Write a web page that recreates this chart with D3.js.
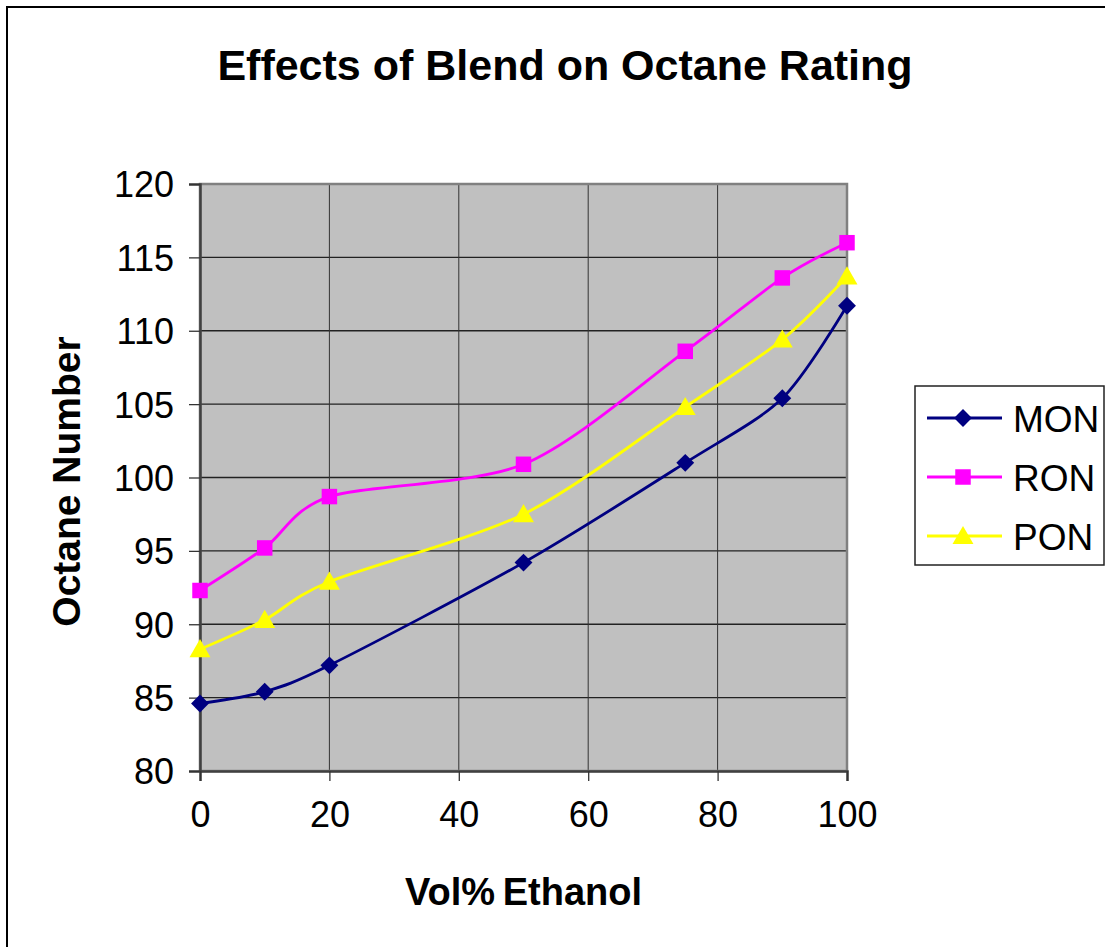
<!DOCTYPE html>
<html><head><meta charset="utf-8">
<script src="https://cdn.jsdelivr.net/npm/d3@7"></script>
<style>html,body{margin:0;padding:0;background:#fff;overflow:hidden}</style>
</head><body>
<svg id="c" width="1105" height="947"></svg>
<script>
const xValues = [0, 10, 20, 50, 75, 90, 100];
const MON = [84.6, 85.4, 87.2, 94.2, 101.0, 105.4, 111.7];
const RON = [92.3, 95.2, 98.7, 100.9, 108.6, 113.6, 116.0];
const PON = [88.3, 90.3, 92.9, 97.5, 104.8, 109.4, 113.7];
const seriesNames = ["MON", "RON", "PON"];
const xTicks = [0, 20, 40, 60, 80, 100];
const yTicks = [80, 85, 90, 95, 100, 105, 110, 115, 120];

const colors = {MON: "#000080", RON: "#FF00FF", PON: "#FFFF00"};
const shapes = {MON: d3.symbolSquare, RON: d3.symbolSquare, PON: d3.symbolTriangle};
const sizes = {MON: 160, RON: 240, PON: 190};
const rot = {MON: 45, RON: 0, PON: 0};
const dy = {MON: 0, RON: 0, PON: 2};
const seriesData = {MON, RON, PON};

const svg = d3.select("#c");
const font = "Arial, 'Liberation Sans', sans-serif";
const L = 200, R = 847, T = 184, B = 771;
const x = d3.scaleLinear().domain([0, 100]).range([L, R]);
const y = d3.scaleLinear().domain([80, 120]).range([B, T]);

svg.append("rect").attr("x", 7).attr("y", 7).attr("width", 1120).attr("height", 980)
  .attr("fill", "#fff").attr("stroke", "#000").attr("stroke-width", 2);

svg.append("rect").attr("x", L).attr("y", T).attr("width", R - L).attr("height", B - T)
  .attr("fill", "#C0C0C0");

svg.append("g").selectAll("line").data(yTicks.filter(v => v > 80 && v < 120)).join("line")
  .attr("x1", L).attr("x2", R).attr("y1", d => y(d)).attr("y2", d => y(d))
  .attr("stroke", "#222").attr("stroke-width", 1.3);
svg.append("g").selectAll("line").data(xTicks.filter(v => v > 0 && v < 100)).join("line")
  .attr("y1", T).attr("y2", B).attr("x1", d => x(d)).attr("x2", d => x(d))
  .attr("stroke", "#333").attr("stroke-width", 1);

svg.append("rect").attr("x", L).attr("y", T).attr("width", R - L).attr("height", B - T)
  .attr("fill", "none").attr("stroke", "#808080").attr("stroke-width", 2.5);

const yAxis = d3.axisLeft(y).tickValues(yTicks).tickSize(11).tickPadding(15).tickFormat(d3.format("d"));
const gy = svg.append("g").attr("transform", `translate(${L},0)`).call(yAxis);
const xAxis = d3.axisBottom(x).tickValues(xTicks).tickSize(10).tickPadding(20).tickFormat(d3.format("d"));
const gx = svg.append("g").attr("transform", `translate(0,${B})`).call(xAxis);
[gx, gy].forEach(g => {
  g.select(".domain").attr("stroke", "#404040").attr("stroke-width", 2.5);
  g.selectAll(".tick line").attr("stroke", "#333").attr("stroke-width", 1.3);
  g.selectAll("text").attr("font-family", font).attr("font-size", 36).attr("fill", "#000");
});
gy.selectAll("text").attr("dy", "0.36em");
gx.selectAll("text").attr("dy", "0.71em");

const line = d3.line().x(d => x(d[0])).y(d => y(d[1])).curve(d3.curveCardinal.tension(0.15));
seriesNames.forEach(name => {
  const pts = xValues.map((xv, i) => [xv, seriesData[name][i]]);
  svg.append("path").datum(pts).attr("d", line).attr("fill", "none")
    .attr("stroke", colors[name]).attr("stroke-width", 2.8);
});
seriesNames.forEach(name => {
  const pts = xValues.map((xv, i) => [xv, seriesData[name][i]]);
  svg.append("g").selectAll("path").data(pts).join("path")
    .attr("d", d3.symbol().type(shapes[name]).size(sizes[name]))
    .attr("transform", d => `translate(${x(d[0])},${y(d[1]) + dy[name]}) rotate(${rot[name]})`)
    .attr("fill", colors[name]);
});

svg.append("text").attr("x", 565).attr("y", 80).attr("text-anchor", "middle")
  .attr("font-family", font).attr("font-weight", "bold").attr("font-size", 43)
  .text("Effects of Blend on Octane Rating");
svg.append("text").attr("x", (L + R) / 2).attr("y", 905).attr("text-anchor", "middle")
  .attr("font-family", font).attr("font-weight", "bold").attr("font-size", 38)
  .attr("word-spacing", 0).text("Vol%\u2009Ethanol");
svg.append("text").attr("transform", `translate(80,${(T + B) / 2 + 4}) rotate(-90)`)
  .attr("text-anchor", "middle")
  .attr("font-family", font).attr("font-weight", "bold").attr("font-size", 39)
  .text("Octane Number");

const lg = svg.append("g");
lg.append("rect").attr("x", 915).attr("y", 386).attr("width", 189).attr("height", 179)
  .attr("fill", "#fff").attr("stroke", "#222").attr("stroke-width", 1.5);
const rowY = [418, 477, 536];
seriesNames.forEach((name, i) => {
  lg.append("line").attr("x1", 927).attr("x2", 1002).attr("y1", rowY[i]).attr("y2", rowY[i])
    .attr("stroke", colors[name]).attr("stroke-width", 2.8);
  lg.append("path").attr("d", d3.symbol().type(shapes[name]).size(sizes[name]))
    .attr("transform", `translate(963,${rowY[i] + dy[name]}) rotate(${rot[name]})`).attr("fill", colors[name]);
  lg.append("text").attr("x", 1013).attr("y", rowY[i] + 14)
    .attr("font-family", font).attr("font-size", 37).text(name);
});
</script>
</body></html>
